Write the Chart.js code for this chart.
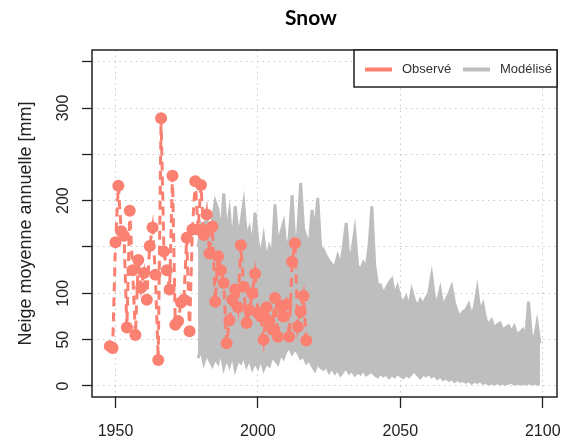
<!DOCTYPE html>
<html>
<head>
<meta charset="utf-8">
<title>Snow</title>
<script src="https://cdn.jsdelivr.net/npm/chart.js@4.4.0/dist/chart.umd.min.js"></script>
<style>
  html, body { margin: 0; padding: 0; background: #fff; }
</style>
</head>
<body>
<canvas id="snowChart" width="565" height="443"></canvas>
<script>
// observed annual snow, one value per year from 1948
const obsStartYear = 1948;
const obsValues = [
  43, 41, 155, 216, 167, 162, 63, 189, 125, 55,
  136, 106, 122, 93, 151, 171, 120, 28, 289, 145,
  125, 104, 227, 66, 70, 90, 93, 160, 59, 169,
  221, 169, 217, 163, 185, 143, 172, 91, 140, 125,
  111, 46, 71, 93, 104, 85, 152, 107, 68, 82,
  100, 121, 79, 75, 50, 85, 70, 61, 95, 53,
  86, 75, 88, 53, 134, 154, 64, 80, 97, 49
];

// modelled ensemble, upper and lower envelope per year from 1979
const modStartYear = 1979;
const modHigh = [
  150, 172, 160, 185, 150, 178, 199, 190, 160, 208,
  165, 187, 150, 194, 165, 175, 197, 160, 170, 150,
  187, 155, 140, 160, 135, 150, 140, 196, 150, 165,
  176, 145, 160, 206, 150, 165, 219, 170, 160, 150,
  190, 165, 203, 150, 147, 140, 135, 131, 128, 140,
  130, 150, 176, 135, 145, 167, 130, 125, 133, 128,
  150, 194, 130, 109, 109, 100, 105, 111, 115, 98,
  107, 95, 90, 96, 85, 103, 92, 86, 93, 88,
  95, 100, 119, 95, 90, 104, 85, 93, 99, 107,
  90, 80, 75, 80, 82, 88, 76, 85, 104, 80,
  88, 72, 66, 71, 62, 66, 68, 60, 63, 65,
  58, 64, 55, 58, 61, 52, 91, 55, 50, 68,
  46
];
const modLow = [
  30, 40, 25, 35, 28, 22, 30, 25, 38, 20,
  30, 22, 35, 18, 28, 25, 33, 22, 30, 19,
  26, 20, 30, 18, 25, 22, 32, 28, 24, 35,
  30, 38, 42, 35, 40, 36, 30, 33, 25, 28,
  22, 17, 25, 20, 18, 22, 15, 20, 14, 18,
  12, 16, 20, 14, 17, 12, 15, 13, 18, 12,
  14, 16, 12, 10, 14, 11, 13, 9, 12, 10,
  14, 11, 9, 12, 10, 14, 16, 12, 9, 13,
  11, 14, 10, 12, 8, 11, 7, 9, 6, 8,
  5, 7, 5, 6, 4, 6, 3, 5, 4, 6,
  3, 4, 2, 3, 2, 4, 2, 3, 2, 3,
  4, 2, 3, 2, 3, 2, 4, 2, 3, 2,
  3
];

const xTicks = [1950, 2000, 2050, 2100];
const yTicks = [0, 50, 100, 150, 200, 250, 300, 350];
const yTickLabels = ['0', '50', '100', '', '200', '', '300', ''];

const chartTitle = 'Snow';
const yTitle = 'Neige moyenne annuelle [mm]';

const obsColor = 'rgb(250,128,114)';
const modColor = 'rgb(190,190,190)';
const gridColor = 'rgb(200,200,200)';
const axisColor = '#222';
const fontFamily = '"Liberation Sans", Arial, sans-serif';

function toPoints(start, values) {
  return values.map(function (v, i) {
    return { x: start + i, y: v };
  });
}

// keep the plot area where the reference has it
function pinScale(size) {
  return function (scale) {
    if (scale.isHorizontal()) {
      scale.height = size;
    } else {
      scale.width = size;
    }
    scale.paddingLeft = 0;
    scale.paddingRight = 0;
    scale.paddingTop = 0;
    scale.paddingBottom = 0;
  };
}

// box around the plot, legend in the top right corner, and the title
const framePlugin = {
  id: 'frame',
  afterDraw: function (chart) {
    const ctx = chart.ctx;
    const a = chart.chartArea;
    ctx.save();

    ctx.strokeStyle = axisColor;
    ctx.lineWidth = 1.5;
    ctx.strokeRect(a.left, a.top, a.right - a.left, a.bottom - a.top);

    // legend
    const lw = 203, lh = 37;
    const lx = a.right - lw, ly = a.top;
    ctx.fillStyle = '#fff';
    ctx.fillRect(lx, ly, lw, lh);
    ctx.strokeRect(lx, ly, lw, lh);

    ctx.font = '13px ' + fontFamily;
    ctx.textBaseline = 'middle';
    ctx.textAlign = 'left';
    let x = lx + 11;
    [chart.data.datasets[0], chart.data.datasets[1]].forEach(function (ds) {
      ctx.strokeStyle = ds.borderColor;
      ctx.lineWidth = 4;
      ctx.beginPath();
      ctx.moveTo(x, ly + 19.5);
      ctx.lineTo(x + 27, ly + 19.5);
      ctx.stroke();
      ctx.fillStyle = '#333';
      ctx.fillText(ds.label, x + 37, ly + 19.5);
      x += 98;
    });

    // title
    ctx.font = 'bold 21px Lato, sans-serif';
    ctx.textAlign = 'center';
    ctx.fillStyle = '#000';
    ctx.fillText(chartTitle, 311, 18);

    ctx.restore();
  }
};

new Chart(document.getElementById('snowChart'), {
  type: 'line',
  data: {
    datasets: [
      {
        label: 'Observé',
        data: toPoints(obsStartYear, obsValues),
        borderColor: obsColor,
        backgroundColor: obsColor,
        borderWidth: 3,
        borderDash: [9, 6],
        pointRadius: 6,
        pointBorderWidth: 0,
        pointBackgroundColor: obsColor,
        tension: 0
      },
      {
        label: 'Modélisé',
        data: toPoints(modStartYear, modHigh),
        borderColor: modColor,
        backgroundColor: modColor,
        borderWidth: 3,
        pointRadius: 0,
        fill: '+1',
        tension: 0
      },
      {
        label: 'Modélisé min',
        data: toPoints(modStartYear, modLow),
        borderColor: modColor,
        borderWidth: 3,
        pointRadius: 0,
        fill: false,
        tension: 0
      }
    ]
  },
  options: {
    responsive: false,
    animation: false,
    events: [],
    layout: { padding: { top: 50, right: 8, left: 0, bottom: 0 } },
    plugins: {
      legend: { display: false },
      tooltip: { enabled: false },
      title: { display: false }
    },
    scales: {
      x: {
        type: 'linear',
        min: 1941.75,
        max: 2105,
        afterBuildTicks: function (scale) {
          scale.ticks = xTicks.map(function (v) { return { value: v }; });
        },
        afterFit: pinScale(46),
        grid: {
          color: gridColor,
          lineWidth: 1,
          tickLength: 11,
          tickColor: axisColor,
          tickWidth: 1.3
        },
        border: { display: false, dash: [1.5, 4] },
        ticks: {
          autoSkip: false,
          maxRotation: 0,
          padding: 14,
          color: axisColor,
          font: { size: 16, family: fontFamily },
          callback: function (value) { return String(value); }
        }
      },
      y: {
        type: 'linear',
        min: -11.9,
        max: 362.6,
        afterBuildTicks: function (scale) {
          scale.ticks = yTicks.map(function (v) { return { value: v }; });
        },
        afterFit: pinScale(92),
        grid: {
          color: gridColor,
          lineWidth: 1,
          tickLength: 10,
          tickColor: axisColor,
          tickWidth: 1.3
        },
        border: { display: false, dash: [1.5, 4] },
        ticks: {
          autoSkip: false,
          minRotation: 90,
          maxRotation: 90,
          crossAlign: 'center',
          padding: 5,
          color: axisColor,
          font: { size: 16, family: fontFamily },
          callback: function (value) {
            return yTickLabels[yTicks.indexOf(value)];
          }
        },
        title: {
          display: true,
          text: yTitle,
          color: axisColor,
          font: { size: 18, family: fontFamily },
          padding: { top: 15, bottom: 0 }
        }
      }
    }
  },
  plugins: [framePlugin]
});
</script>
</body>
</html>
